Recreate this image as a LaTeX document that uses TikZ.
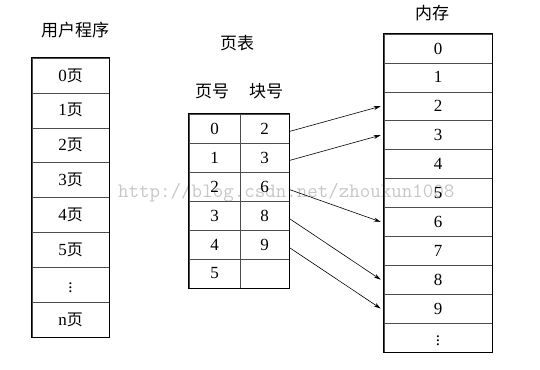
\documentclass[tikz,border=0pt]{standalone}
\usepackage{fontspec}
\setmainfont{Liberation Serif}
\newfontfamily\cjk{Noto Sans CJK SC}
\usetikzlibrary{positioning, arrows.meta}
\newcommand{\ye}{{\cjk\fontsize{16}{16}\selectfont 页}}

\tikzset{
  cell/.style={draw=black!70, line width=0.6pt, rectangle, inner sep=0pt, font=\fontsize{17}{17}\selectfont},
  title/.style={font=\cjk\fontsize{17}{17}\selectfont},
  frame/.style={line width=1.3pt},
  link/.style={-{Stealth[length=7pt,width=4pt]}, line width=0.6pt},
}

\begin{document}
\begin{tikzpicture}[x=1pt, y=-1pt]
    \useasboundingbox (0,0) rectangle (540,369);

    % Watermark
    \node[text=black!22, font=\ttfamily\fontsize{20.4}{20.4}\selectfont, anchor=base west, inner sep=0pt] (wm) at (118,197) {http://blog.csdn.net/zhoukun1008};

    % Titles
    \node[title] (progtitle) at (75,30) {用户程序};
    \node[title] (tabtitle) at (237,43) {页表};
    \node[title] (pgno) at (212,91) {页号};
    \node[title] (blkno) at (266,91) {块号};
    \node[title] (memtitle) at (432,13) {内存};

    % User program
    \foreach \lab [count=\i from 0] in {0\ye,1\ye,2\ye,3\ye,4\ye,5\ye,$\vdots$,n\ye}
        \node[cell, minimum width=77pt, minimum height=34.9pt] (p\i) at (70.5, {58+34.9*\i+17.45}) {\lab};
    \draw[frame] (p0.north west) rectangle (p7.south east);

    % Page table
    \foreach \pg/\blk [count=\i from 0] in {0/2,1/3,2/6,3/8,4/9,5/} {
        \node[cell, minimum width=51pt, minimum height=29pt] (tn\i) at (214.5, {114+29*\i+14.5}) {\pg};
        \node[cell, minimum width=49pt, minimum height=29pt] (tb\i) at (264.5, {114+29*\i+14.5}) {\blk};
    }
    \draw[frame] (tn0.north west) rectangle (tb5.south east);

    % Memory
    \foreach \lab [count=\i from 0] in {0,1,2,3,4,5,6,7,8,9,$\vdots$}
        \node[cell, minimum width=108pt, minimum height=28.9pt] (m\i) at (438, {34+28.9*\i+14.45}) {\lab};
    \draw[frame] (m0.north west) rectangle (m10.south east);

    % Mapping
    \foreach \r/\m in {0/2,1/3,2/6,3/8,4/9}
        \draw[link] ([yshift=-3pt]tb\r.east) -- ([xshift=-3pt]m\m.west);
\end{tikzpicture}
\end{document}
